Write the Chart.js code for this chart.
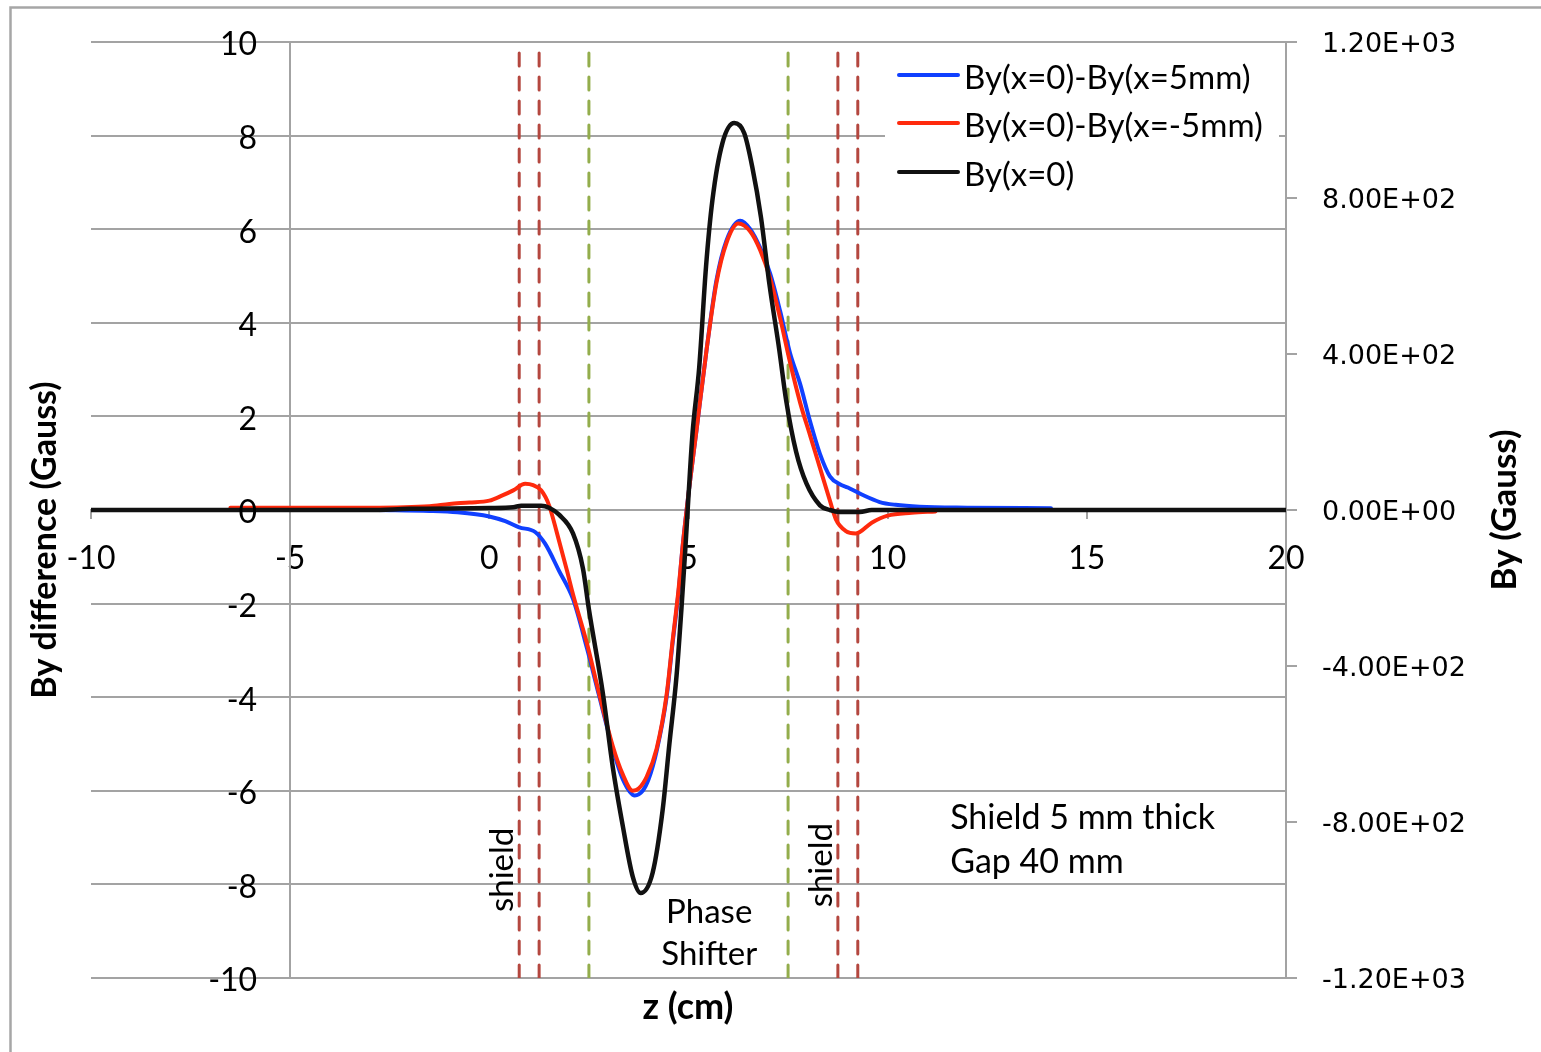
<!DOCTYPE html>
<html>
<head>
<meta charset="utf-8">
<script src="https://cdn.jsdelivr.net/npm/chart.js@4.4.1/dist/chart.umd.min.js"></script>
<style>
  html, body { margin: 0; padding: 0; background: #fff; }
  #wrap { width: 1541px; height: 1052px; position: relative; }
</style>
</head>
<body>
<div id="wrap"><canvas id="chart"></canvas></div>
<script>
// values, z in cm
const zBlue = [-2.8, -1.5, -0.8, 0, 0.4, 0.75, 1.15, 1.4, 1.75, 2.1, 2.45, 2.75, 3.1, 3.35, 3.65, 3.85, 4.0, 4.2, 4.45, 4.6, 4.75, 4.85, 5.0, 5.2, 5.45, 5.7, 5.95, 6.3, 6.55, 6.8, 7.05, 7.3, 7.55, 7.8, 8.05, 8.3, 8.55, 8.8, 9.0, 9.35, 9.8, 10.2, 10.8, 12, 14.1];
const diffPlus = [0, -0.02, -0.05, -0.14, -0.24, -0.37, -0.47, -0.72, -1.3, -1.9, -2.95, -3.95, -5.1, -5.75, -6.1, -6.0, -5.75, -5.15, -4.0, -2.85, -1.75, -0.8, 0.35, 1.7, 3.4, 4.9, 5.75, 6.18, 6.0, 5.6, 5.05, 4.25, 3.35, 2.7, 1.9, 1.2, 0.72, 0.55, 0.48, 0.33, 0.17, 0.11, 0.07, 0.05, 0.04];

const zRed = [-6.5, -3, -1.5, -1, -0.5, 0, 0.3, 0.6, 0.9, 1.1, 1.3, 1.5, 1.7, 1.95, 2.1, 2.45, 2.75, 3.1, 3.35, 3.6, 3.75, 3.95, 4.2, 4.45, 4.6, 4.75, 4.85, 5.0, 5.2, 5.45, 5.7, 5.95, 6.25, 6.55, 6.8, 7.05, 7.3, 7.55, 7.8, 8.05, 8.3, 8.55, 8.7, 8.95, 9.2, 9.6, 10.0, 10.6, 11.2];
const diffMinus = [0.05, 0.05, 0.08, 0.13, 0.16, 0.2, 0.3, 0.42, 0.56, 0.53, 0.42, 0.1, -0.5, -1.3, -1.8, -2.85, -3.9, -5.05, -5.65, -6.0, -5.95, -5.7, -5.1, -3.95, -2.8, -1.7, -0.8, 0.35, 1.7, 3.4, 4.85, 5.7, 6.12, 5.95, 5.55, 4.95, 4.1, 3.15, 2.3, 1.6, 0.9, 0.2, -0.2, -0.45, -0.5, -0.27, -0.12, -0.06, -0.03];

const zBlack = [-10, -3, -2, 0, 0.6, 0.8, 1.3, 1.5, 1.75, 2.1, 2.35, 2.5, 2.85, 3.1, 3.35, 3.6, 3.8, 4.1, 4.35, 4.52, 4.7, 4.82, 4.92, 5.0, 5.1, 5.27, 5.44, 5.6, 5.85, 6.15, 6.4, 6.6, 6.82, 7.03, 7.28, 7.45, 7.7, 7.96, 8.3, 8.55, 8.8, 9.3, 9.6, 20];
const byCenter = [0, 0, 3, 5, 7, 11, 11, 6, -12, -60, -150, -255, -470, -660, -810, -940, -982, -930, -770, -600, -425, -257, -100, 36, 195, 367, 624, 794, 940, 992, 966, 880, 750, 580, 410, 282, 150, 68, 12, 0, -5, -5, 0, 0];

const shieldEdges = [0.75, 1.25, 8.75, 9.25];
const shifterEdges = [2.5, 7.5];

const seriesNames = ["By(x=0)-By(x=5mm)", "By(x=0)-By(x=-5mm)", "By(x=0)"];
const seriesColors = ["#1040ff", "#ff2a0d", "#111111"];

const FONT = 'Lato, "Open Sans", sans-serif';
const GRID = '#a3a3a3';

function pts(xs, ys) {
  return xs.map((x, i) => ({ x: x, y: ys[i] }));
}

function sci(v) {
  const parts = v.toExponential(2).split('e');
  const e = parts[1];
  return parts[0] + 'E' + e[0] + e.slice(1).padStart(2, '0');
}

const datasets = [
  { label: seriesNames[2], data: pts(zBlack, byCenter), yAxisID: 'y2', borderColor: seriesColors[2], borderWidth: 4.5, order: 1 },
  { label: seriesNames[1], data: pts(zRed, diffMinus), yAxisID: 'y', borderColor: seriesColors[1], borderWidth: 4, order: 2 },
  { label: seriesNames[0], data: pts(zBlue, diffPlus), yAxisID: 'y', borderColor: seriesColors[0], borderWidth: 4, order: 3 }
];
shieldEdges.forEach(e => datasets.push({
  data: [{ x: e, y: -10 }, { x: e, y: 10 }], yAxisID: 'y',
  borderColor: '#b4473f', borderWidth: 3, borderDash: [13, 11], order: 5, cubicInterpolationMode: 'default', tension: 0
}));
shifterEdges.forEach(e => datasets.push({
  data: [{ x: e, y: -10 }, { x: e, y: 10 }], yAxisID: 'y',
  borderColor: '#93ad4c', borderWidth: 3, borderDash: [13, 11], order: 5, cubicInterpolationMode: 'default', tension: 0
}));

const decor = {
  id: 'decor',
  beforeDraw(chart) {
    const c = chart.ctx;
    c.save();
    c.fillStyle = '#fff';
    c.fillRect(0, 0, chart.width, chart.height);
    c.strokeStyle = '#a6a6a6';
    c.lineWidth = 2.5;
    c.strokeRect(10.5, 7.5, chart.width + 20, chart.height + 20);
    c.restore();
  },
  afterDraw(chart) {
    const c = chart.ctx;
    const sx = chart.scales.x, sy = chart.scales.y;
    c.save();

    // left tick labels: the axis sits at z=-5, labels just left of it
    c.fillStyle = '#000';
    c.font = '32px ' + FONT;
    c.textAlign = 'right';
    c.textBaseline = 'middle';
    const axX = sx.getPixelForValue(-5);
    sy.ticks.forEach(t => {
      c.fillText(String(t.value), axX - 33, sy.getPixelForValue(t.value) + 3);
    });

    // legend
    c.fillStyle = '#fff';
    c.fillRect(885, 52, 394, 150);
    const legY = [75, 123, 172];
    [0, 1, 2].forEach((k, i) => {
      c.strokeStyle = seriesColors[k];
      c.lineWidth = 4;
      c.lineCap = 'round';
      c.beginPath();
      c.moveTo(899, legY[i]);
      c.lineTo(958, legY[i]);
      c.stroke();
      c.fillStyle = '#000';
      c.font = '33px ' + FONT;
      c.textAlign = 'left';
      c.textBaseline = 'middle';
      c.fillText(seriesNames[k], 964, legY[i] + 3);
    });

    // notes in the plot
    c.fillStyle = '#000';
    c.font = '33px ' + FONT;
    c.textBaseline = 'middle';
    c.textAlign = 'center';
    c.fillText('Phase', sx.getPixelForValue(5.52), sy.getPixelForValue(-8.59));
    c.fillText('Shifter', sx.getPixelForValue(5.52), sy.getPixelForValue(-9.5));
    c.textAlign = 'left';
    c.font = '34px ' + FONT;
    c.fillText('Shield 5 mm thick', sx.getPixelForValue(11.57), sy.getPixelForValue(-6.58));
    c.fillText('Gap 40 mm', sx.getPixelForValue(11.57), sy.getPixelForValue(-7.52));
    c.font = '33px ' + FONT;
    [[0.33, -7.69], [8.33, -7.59]].forEach(p => {
      c.save();
      c.translate(sx.getPixelForValue(p[0]), sy.getPixelForValue(p[1]));
      c.rotate(-Math.PI / 2);
      c.textAlign = 'center';
      c.fillText('shield', 0, 0);
      c.restore();
    });

    // axis titles
    c.textAlign = 'center';
    c.font = 'bold 36px ' + FONT;
    c.fillText('z (cm)', 688, 1007);
    c.font = 'bold 34px ' + FONT;
    c.save();
    c.translate(45, 540);
    c.rotate(-Math.PI / 2);
    c.fillText('By difference (Gauss)', 0, 0);
    c.restore();
    c.font = 'bold 35px ' + FONT;
    c.save();
    c.translate(1505, 510);
    c.rotate(-Math.PI / 2);
    c.fillText('By (Gauss)', 0, 0);
    c.restore();

    c.restore();
  }
};

new Chart(document.getElementById('chart'), {
  type: 'line',
  data: { datasets: datasets },
  options: {
    responsive: true,
    maintainAspectRatio: false,
    animation: false,
    layout: { padding: { left: 91, top: 42, right: 0, bottom: 74 } },
    elements: {
      point: { radius: 0 },
      line: { cubicInterpolationMode: 'monotone', borderCapStyle: 'round', borderJoinStyle: 'round' }
    },
    plugins: { legend: { display: false }, tooltip: { enabled: false }, title: { display: false } },
    scales: {
      x: {
        type: 'linear', min: -10, max: 20,
        position: { y: 0 },
        ticks: { stepSize: 5, color: '#000', font: { family: FONT, size: 32 }, padding: 21, maxRotation: 0 },
        grid: { display: true, drawOnChartArea: false, drawTicks: true, tickLength: 8, color: GRID, lineWidth: 2 },
        border: { display: true, color: GRID, width: 2 }
      },
      y: {
        type: 'linear', min: -10, max: 10,
        position: { x: -5 },
        ticks: { stepSize: 2, display: false },
        grid: { color: GRID, lineWidth: 2, tickLength: 12 },
        border: { display: true, color: GRID, width: 2 }
      },
      y2: {
        type: 'linear', min: -1200, max: 1200,
        position: 'right',
        afterFit: s => { s.width = 255; },
        ticks: { stepSize: 400, color: '#000', font: { family: '"DejaVu Sans", sans-serif', size: 27 }, padding: 25, labelOffset: 3, callback: v => sci(v) },
        grid: { drawOnChartArea: false, color: GRID, lineWidth: 2, tickLength: 11 },
        border: { display: true, color: GRID, width: 2 }
      }
    }
  },
  plugins: [decor]
});
</script>
</body>
</html>
